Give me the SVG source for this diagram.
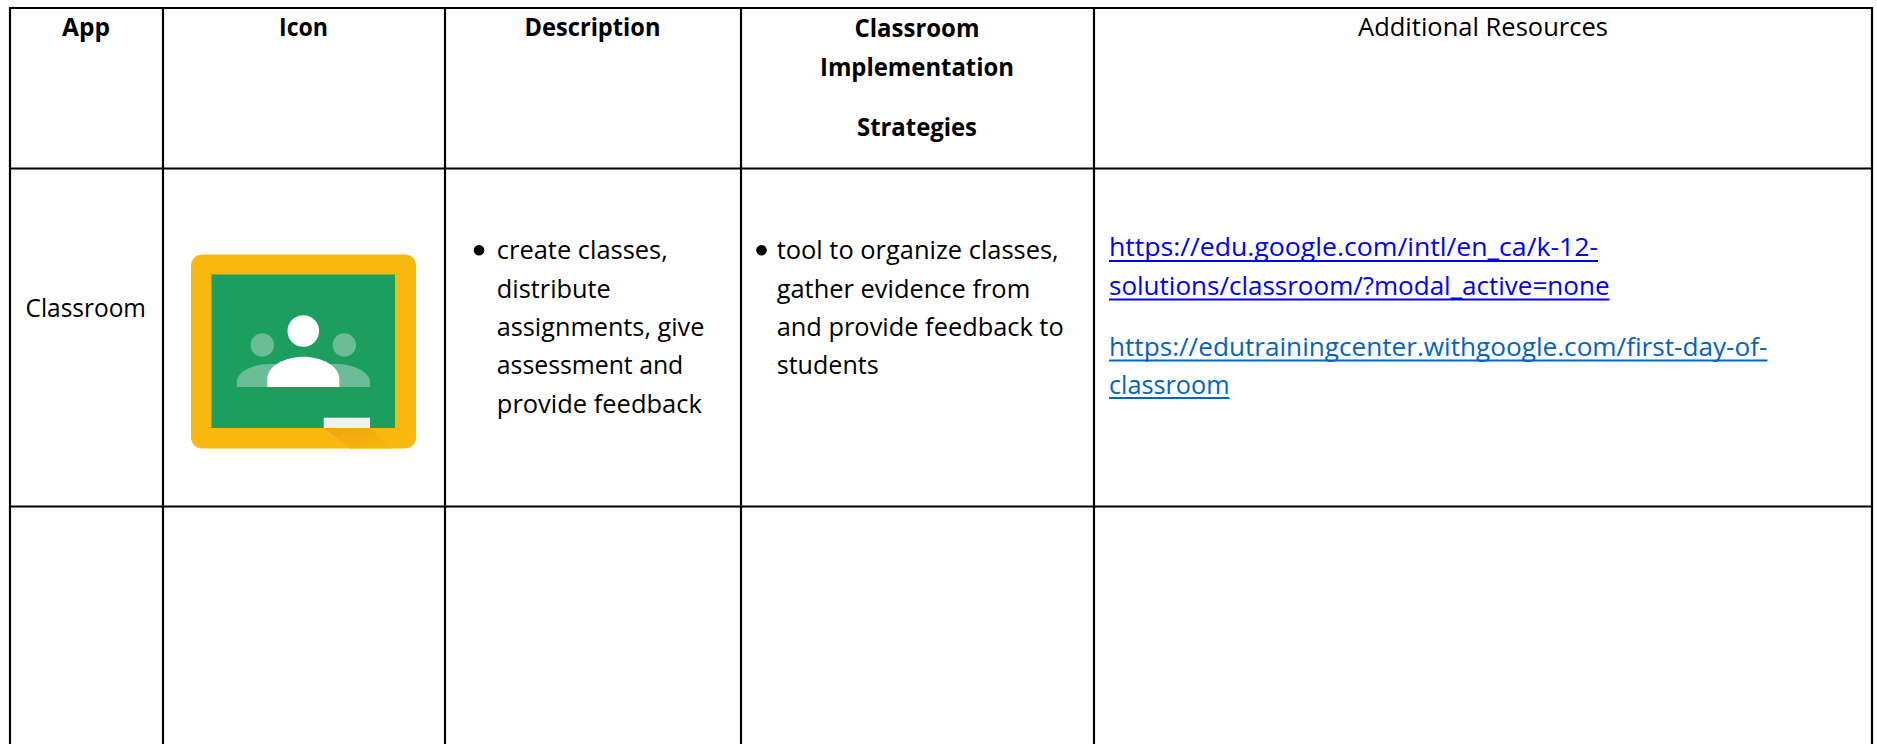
<svg xmlns="http://www.w3.org/2000/svg" width="1877" height="744" viewBox="0 0 1877 744">
<style>
text{font-family:"Open Sans","Noto Sans","Liberation Sans",sans-serif;font-size:25px;fill:#000}
.b{font-weight:700}
.l1{fill:#0000ff}
.l2{fill:#0563c1}
.g{stroke:#000;stroke-width:2.2;fill:none}
.u1{stroke:#0000ff;stroke-width:2}
.u2{stroke:#0563c1;stroke-width:2}
</style>
<defs>
<linearGradient id="sh" x1="0" y1="0" x2="1" y2="1">
<stop offset="0" stop-color="#f0a110"/>
<stop offset="1" stop-color="#f8b90f"/>
</linearGradient>
</defs>
<rect width="1877" height="744" fill="#fff"/>
<g id="grid">
<path class="g" d="M10 744V8H1872V744M163 8V744M445 8V744M741 8V744M1094 8V744M10 168.5H1872M10 506.5H1872"/>
</g>
<g id="header">
<text class="b" x="62" y="36" textLength="48" lengthAdjust="spacingAndGlyphs">App</text>
<text class="b" x="279" y="36" textLength="49" lengthAdjust="spacingAndGlyphs">Icon</text>
<text class="b" x="524.5" y="36" textLength="136" lengthAdjust="spacingAndGlyphs">Description</text>
<text class="b" x="854.5" y="36.5" textLength="125" lengthAdjust="spacingAndGlyphs">Classroom</text>
<text class="b" x="820" y="76" textLength="194" lengthAdjust="spacingAndGlyphs">Implementation</text>
<text class="b" x="857" y="136" textLength="120" lengthAdjust="spacingAndGlyphs">Strategies</text>
<text x="1358" y="36" textLength="250" lengthAdjust="spacingAndGlyphs">Additional Resources</text>
</g>
<g id="app-name">
<text x="25.5" y="316.5" textLength="120.5" lengthAdjust="spacingAndGlyphs">Classroom</text>
</g>
<g id="icon">
<rect x="191" y="254.5" width="225" height="194" rx="11" fill="#f8b90f"/>
<path d="M324 428H370L392 448.5H350Z" fill="url(#sh)"/>
<rect x="211.5" y="274.5" width="183.5" height="153.5" fill="#1c9e5e"/>
<circle cx="262.3" cy="345" r="11.7" fill="#6cbd97"/>
<circle cx="344.3" cy="345" r="11.7" fill="#6cbd97"/>
<path d="M236.7 387V382C236.7 372 253 364 270 364H336C353 364 370 372 370 382V387Z" fill="#6cbd97"/>
<circle cx="303.3" cy="331" r="15.8" fill="#fff"/>
<path d="M267.3 387V379C267.3 366 285 356.7 303.3 356.7S339.3 366 339.3 379V387Z" fill="#fff"/>
<rect x="323.7" y="417.7" width="46.3" height="10.3" fill="#f1f1f1"/>
</g>
<g id="description">
<circle cx="479" cy="250.3" r="5.3"/>
<text x="496.8" y="259" textLength="171" lengthAdjust="spacingAndGlyphs">create classes,</text>
<text x="496.8" y="297.5" textLength="114" lengthAdjust="spacingAndGlyphs">distribute</text>
<text x="496.8" y="336" textLength="207.5" lengthAdjust="spacingAndGlyphs">assignments, give</text>
<text x="496.8" y="374" textLength="186.5" lengthAdjust="spacingAndGlyphs">assessment and</text>
<text x="496.8" y="412.7" textLength="205" lengthAdjust="spacingAndGlyphs">provide feedback</text>
</g>
<g id="strategies">
<circle cx="761.5" cy="250.3" r="5.3"/>
<text x="776.7" y="259" textLength="282" lengthAdjust="spacingAndGlyphs">tool to organize classes,</text>
<text x="776.7" y="297.5" textLength="253.5" lengthAdjust="spacingAndGlyphs">gather evidence from</text>
<text x="776.7" y="336" textLength="287" lengthAdjust="spacingAndGlyphs">and provide feedback to</text>
<text x="776.7" y="374" textLength="102" lengthAdjust="spacingAndGlyphs">students</text>
</g>
<g id="resources">
<text class="l1" x="1109" y="256" textLength="489" lengthAdjust="spacingAndGlyphs">https://edu.google.com/intl/en_ca/k-12-</text>
<path class="u1" d="M1109 261H1598"/>
<text class="l1" x="1109" y="295" textLength="500.5" lengthAdjust="spacingAndGlyphs">solutions/classroom/?modal_active=none</text>
<path class="u1" d="M1109 299.5H1609.5"/>
<text class="l2" x="1109" y="356" textLength="658.5" lengthAdjust="spacingAndGlyphs">https://edutrainingcenter.withgoogle.com/first-day-of-</text>
<path class="u2" d="M1109 360.5H1767.5"/>
<text class="l2" x="1109" y="393.5" textLength="120.5" lengthAdjust="spacingAndGlyphs">classroom</text>
<path class="u2" d="M1109 398H1229.5"/>
</g>
</svg>
